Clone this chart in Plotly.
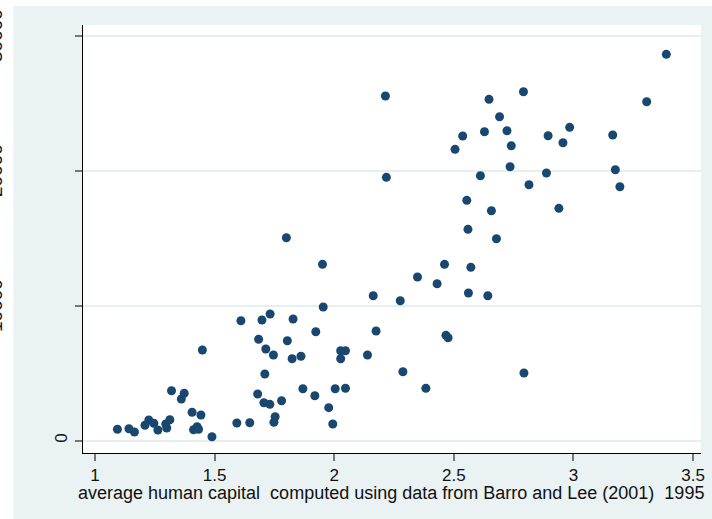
import plotly.graph_objects as go

# average human capital (x) and GDP per capita 1995 (y)
human_capital = [
    1.094, 1.142, 1.165, 1.209, 1.225, 1.246, 1.263, 1.296, 1.300, 1.313,
    1.320, 1.373, 1.361, 1.406, 1.443, 1.412, 1.427, 1.433, 1.449, 1.489,
    1.593, 1.647, 1.610, 1.698, 1.732, 1.828, 1.684, 1.804, 1.923, 1.800,
    1.951, 1.954, 1.714, 1.746, 1.824, 1.861, 2.027, 2.047, 2.027, 1.710,
    1.680, 1.869, 1.919, 2.004, 2.047, 1.706, 1.731, 1.780, 1.977, 1.753,
    1.748, 1.994, 2.214, 2.647, 2.791, 2.691, 2.537, 2.628, 2.722, 2.505,
    2.740, 2.735, 2.218, 2.611, 2.814, 2.554, 2.657, 2.559, 2.678, 2.461,
    2.571, 2.348, 2.430, 2.561, 2.642, 2.163, 2.276, 2.175, 2.467, 2.476,
    2.139, 2.287, 2.383, 2.793, 3.388, 3.306, 2.894, 2.984, 2.956, 3.164,
    2.887, 3.175, 3.194, 2.939,
]
gdp_1995 = [
    830, 874, 630, 1126, 1518, 1274, 778, 1222, 926, 1541,
    3689, 3496, 3074, 2089, 1889, 800, 1022, 830, 6703, 281,
    1296, 1318, 8874, 8925, 9370, 9000, 7496, 7392, 8059, 15021,
    13051, 9888, 6777, 6333, 6059, 6237, 6652, 6652, 6059, 4926,
    3444, 3837, 3318, 3837, 3867, 2800, 2681, 2948, 2430, 1763,
    1348, 1222, 25518, 25273, 25836, 23984, 22554, 22873, 22947, 21569,
    21836, 20281, 19496, 19614, 18947, 17792, 17022, 15644, 14947, 13051,
    12829, 12110, 11614, 10925, 10725, 10725, 10355, 8111, 7792, 7614,
    6333, 5096, 3867, 5000, 28606, 25096, 22577, 23199, 22058, 22629,
    19814, 20058, 18799, 17199,
]

x_ticks = [1, 1.5, 2, 2.5, 3, 3.5]
x_ticktext = ["1", "1.5", "2", "2.5", "3", "3.5"]
y_ticks = [0, 10000, 20000, 30000]
y_ticktext = ["0", "", "", ""]
hidden_y_labels = ["10000", "20000", "30000"]
x_title = "average human capital\u00a0\u00a0computed using data from Barro and Lee (2001)\u00a0\u00a01995"

W, H = 712, 519
L, R, T, B = 83, 7, 25, 66
pw, ph = W - L - R, H - T - B

def px_x(p):
    return (p - L) / pw

def px_y(p):
    return (H - B - p) / ph

BG = "#EAF2F3"
NAVY = "#1A476F"
FONT = "Liberation Sans, Arial, sans-serif"

fig = go.Figure()
fig.add_trace(go.Scatter(
    x=human_capital, y=gdp_1995, mode="markers",
    marker=dict(color=NAVY, size=9, line=dict(width=0)),
    showlegend=False, hoverinfo="x+y",
))

fig.update_layout(
    width=W, height=H,
    margin=dict(l=L, r=R, t=T, b=B, pad=0),
    paper_bgcolor=BG, plot_bgcolor="white",
    font=dict(family=FONT, size=17, color="#111"),
    xaxis=dict(
        range=[0.950, 3.533], tickvals=x_ticks, ticktext=x_ticktext,
        showgrid=False, zeroline=False,
        showline=True, linecolor="#000", linewidth=1,
        ticks="outside", ticklen=7, tickcolor="#777", tickwidth=1.5,
        tickfont=dict(size=17), fixedrange=True,
    ),
    yaxis=dict(
        range=[-926, 30778], tickvals=y_ticks, ticktext=y_ticktext,
        tickangle=-90,
        showgrid=True, gridcolor="#E6EEF0", gridwidth=1.5,
        zeroline=False,
        showline=True, linecolor="#000", linewidth=1,
        ticks="outside", ticklen=7, tickcolor="#777", tickwidth=1.5,
        tickfont=dict(size=17), ticklabelstandoff=1, fixedrange=True,
    ),
)

# white strips outside the light frame (left and top edges)
fig.add_shape(type="rect", xref="paper", yref="paper",
              x0=px_x(-20), x1=px_x(13), y0=px_y(H + 20), y1=px_y(-20),
              fillcolor="white", line=dict(width=0), layer="above")
fig.add_shape(type="rect", xref="paper", yref="paper",
              x0=px_x(-20), x1=px_x(W + 20), y0=px_y(6), y1=px_y(-20),
              fillcolor="white", line=dict(width=0), layer="above")

# y tick labels that are cut off at the left edge
for val, lab in zip(y_ticks[1:], hidden_y_labels):
    fig.add_annotation(
        x=px_x(7.5), xref="paper", y=val, yref="y",
        text=lab, textangle=-90, showarrow=False,
        xanchor="right", yanchor="middle",
        font=dict(size=19, color="#111", family=FONT),
    )

# x axis title
fig.add_annotation(
    x=px_x(76), xref="paper", y=px_y(493), yref="paper",
    text=x_title, showarrow=False, xanchor="left", yanchor="middle",
    font=dict(size=18, color="#111", family=FONT),
)

fig.write_html(
    "out.html",
    config={"displayModeBar": False},
    post_script="document.body.style.margin='0px';document.body.style.overflow='hidden';",
)
